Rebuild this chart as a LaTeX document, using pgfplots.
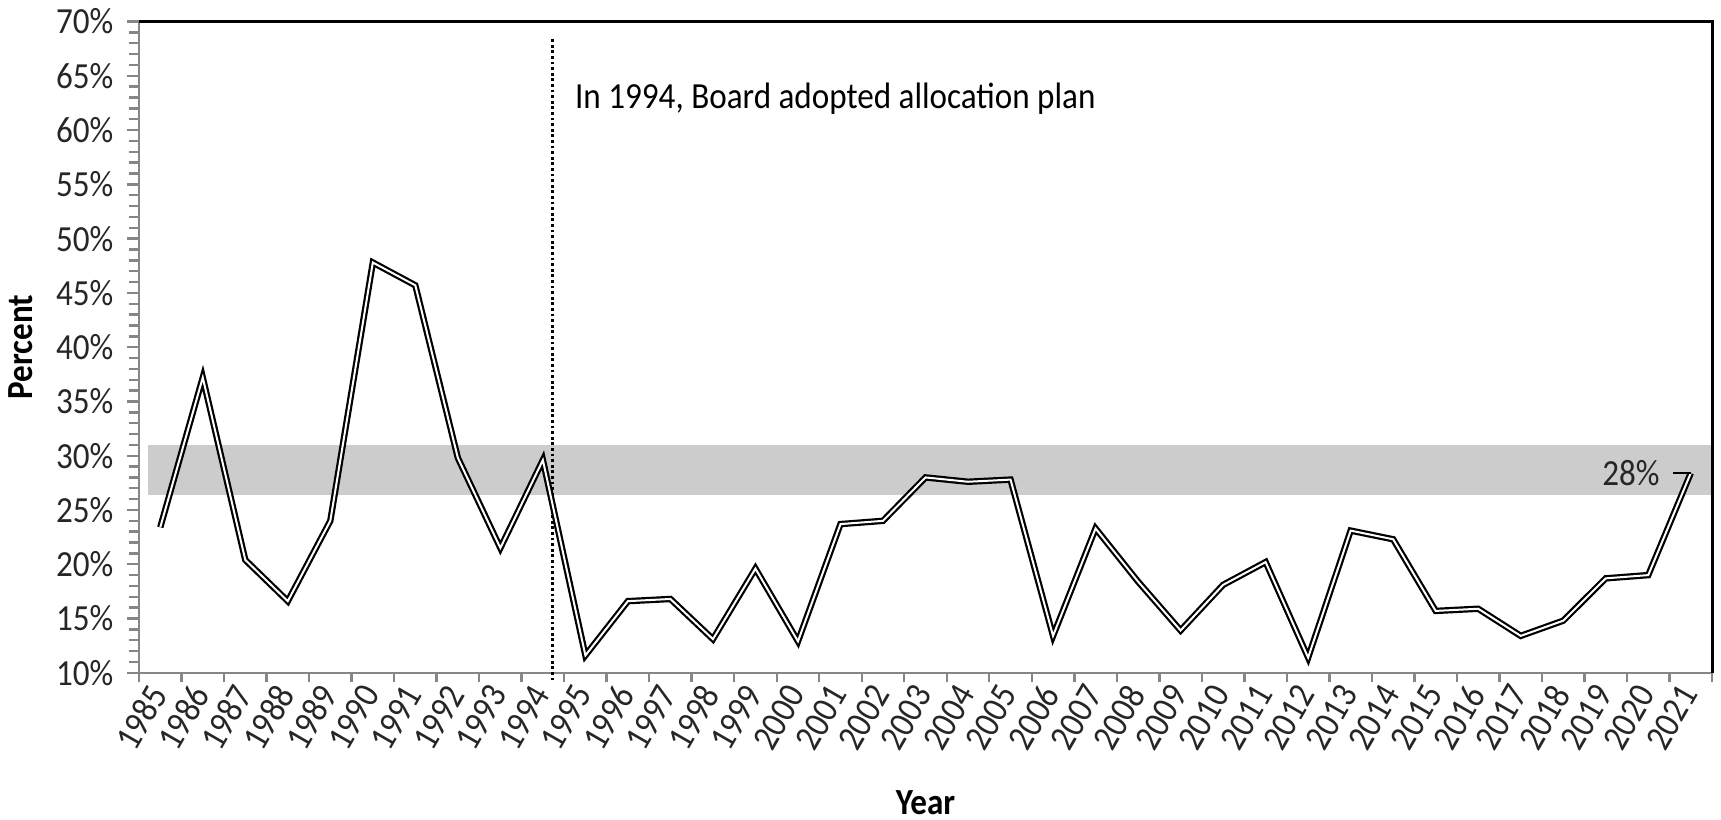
\documentclass[border=0pt]{standalone}
\usepackage{fontspec}
\setmainfont{Carlito}[FakeStretch=0.9]
\usepackage{pgfplots}
\pgfplotsset{compat=1.18}
\definecolor{axisgray}{HTML}{868686}
\definecolor{bandgray}{HTML}{CCCCCC}
\begin{document}
\begin{tikzpicture}[font=\fontsize{9.2}{11}\selectfont]
\useasboundingbox (-34.75pt,-36.6pt) rectangle (395.5pt,168.2pt);
\begin{axis}[
  scale only axis, width=393.25pt, height=162.8pt,
  xmin=-0.5, xmax=36.5, ymin=10, ymax=70,
  clip=false,
  axis x line*=bottom, axis y line*=left,
  axis line style={draw=axisgray, line width=0.6pt},
  tick align=outside,
  xtick={0,...,36},
  xticklabels={1985,1986,1987,1988,1989,1990,1991,1992,1993,1994,1995,1996,1997,1998,1999,2000,2001,2002,2003,2004,2005,2006,2007,2008,2009,2010,2011,2012,2013,2014,2015,2016,2017,2018,2019,2020,2021},
  major x tick style={draw=none},
  minor xtick={-0.5,0.5,...,36.5},
  minor x tick style={draw=axisgray, line width=0.6pt},
  ytick={10,15,...,70},
  yticklabels={10\%,15\%,20\%,25\%,30\%,35\%,40\%,45\%,50\%,55\%,60\%,65\%,70\%},
  minor y tick num=4,
  major y tick style={draw=axisgray, line width=0.6pt},
  minor y tick style={draw=axisgray, line width=0.6pt},
  major tick length=2.9pt, minor tick length=2.4pt,
  xticklabel style={rotate=60, anchor=east, text=black!85, inner sep=1pt},
  yticklabel style={text=black!85},
  xlabel={\textbf{Year}}, ylabel={\textbf{Percent}},
  xlabel style={at={(axis description cs:0.5,0)}, anchor=center, yshift=-32.5pt},
  ylabel style={at={(axis description cs:0,0.5)}, anchor=center, yshift=29.5pt},
]
\addplot[fill=bandgray, draw=none] coordinates {(-0.29,26.4) (36.5,26.4) (36.5,31) (-0.29,31)} -- cycle;
\draw[black, line width=0.8pt, dash pattern=on 0.7pt off 0.7pt] (axis cs:9.23,9.3) -- (axis cs:9.23,68.5);
\node[anchor=west, inner sep=0pt] at (axis cs:9.74,62.9) {In 1994, Board adopted allocation plan};
\addplot[draw=black, double=white, line width=0.55pt, double distance=0.5pt, line join=miter, mark=none] coordinates {
(0,23.4) (1,37.2) (2,20.4) (3,16.6) (4,24.0) (5,47.8) (6,45.7) (7,29.8) (8,21.5) (9,29.6)
(10,11.6) (11,16.6) (12,16.8) (13,13.1) (14,19.6) (15,12.9) (16,23.7) (17,24.0) (18,28.0) (19,27.6)
(20,27.8) (21,13.4) (22,23.3) (23,18.4) (24,13.9) (25,18.1) (26,20.2) (27,11.4) (28,23.1) (29,22.3)
(30,15.7) (31,15.9) (32,13.4) (33,14.8) (34,18.7) (35,19.0) (36,28.4)};
\draw[black, line width=0.6pt] (axis cs:36,28.4) -- ++(-4.5pt,0pt) node[anchor=east, inner sep=0pt, xshift=-3pt, text=black!85] {28\%};
\draw[black, line width=0.75pt] (rel axis cs:0,1) -- (rel axis cs:1,1) -- (rel axis cs:1,0);
\end{axis}
\end{tikzpicture}
\end{document}
